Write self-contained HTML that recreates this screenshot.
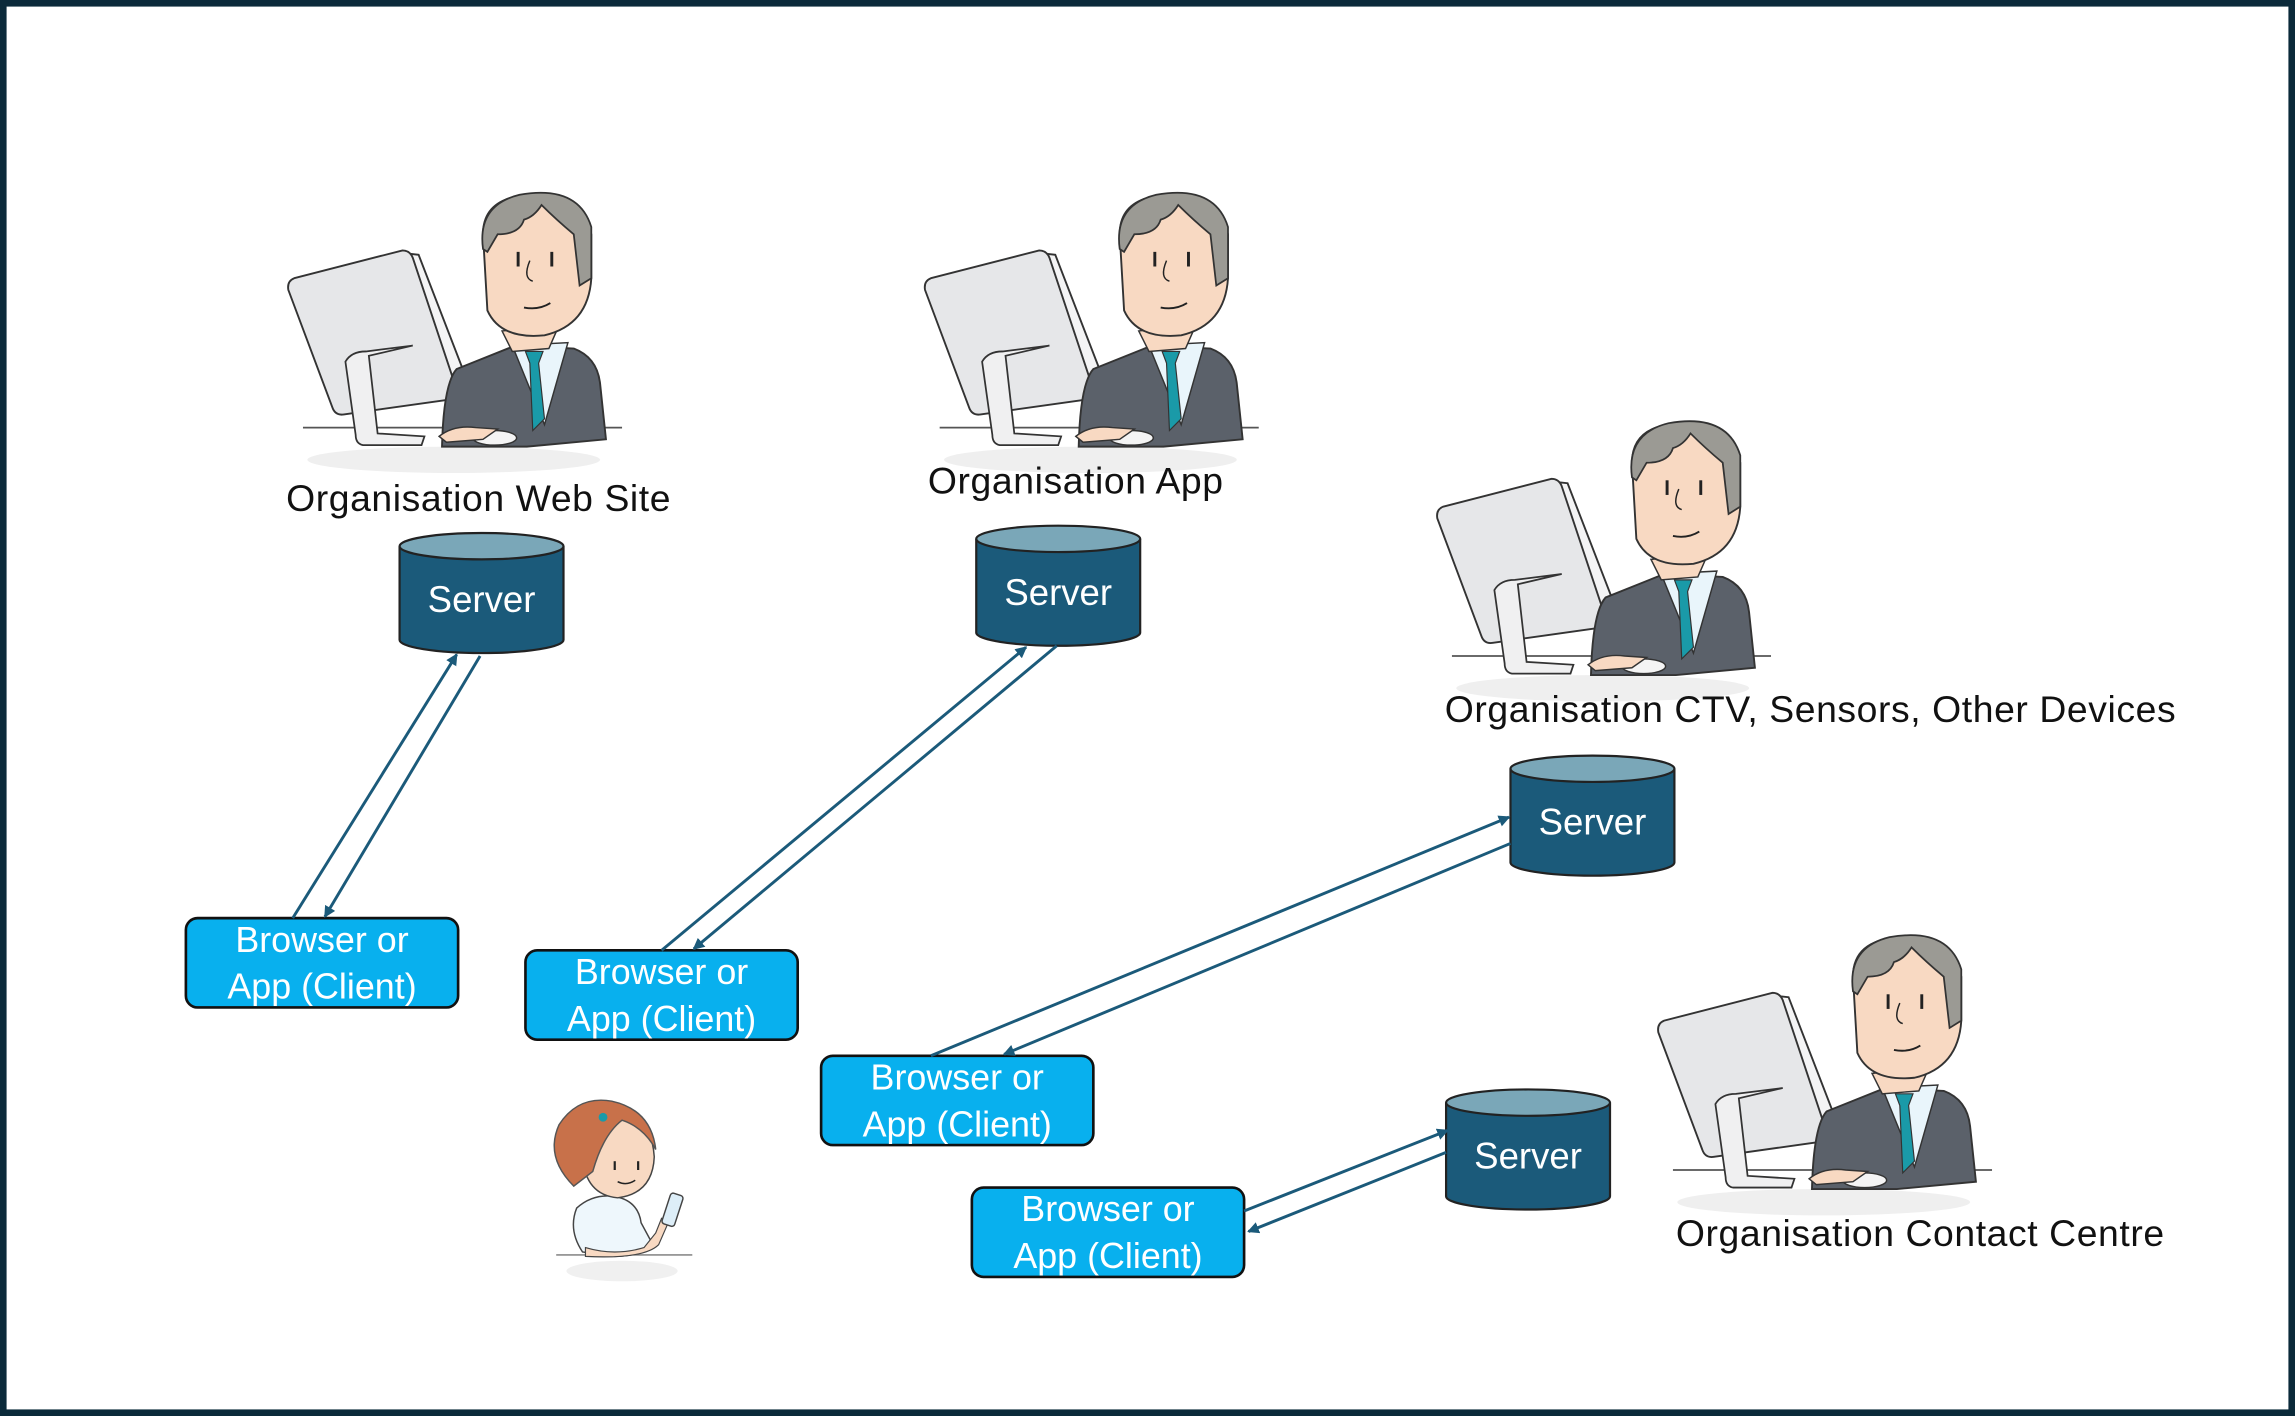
<!DOCTYPE html>
<html><head><meta charset="utf-8"><style>
html,body{margin:0;padding:0;background:#fff}
svg{display:block}
text{font-family:"Liberation Sans",sans-serif}
</style></head><body>
<svg width="2295" height="1416" viewBox="0 0 1568 967" preserveAspectRatio="none" xmlns="http://www.w3.org/2000/svg">
<defs>
<marker id="ah" markerWidth="8" markerHeight="8" refX="7" refY="4" orient="auto" markerUnits="userSpaceOnUse">
<path d="M0,0 L8,4 L0,8 Z" fill="#1b5a7a"/></marker>
<g id="man">
<ellipse cx="310" cy="314" rx="100" ry="9" fill="#efefef"/>
<line x1="207" y1="292" x2="425" y2="292" stroke="#555" stroke-width="1.2"/>
<path d="M277,173 L286,174 L320,262 L312,268 Z" fill="#f4f4f5" stroke="#333" stroke-width="1.3"/>
<path d="M201,190 L275,171 Q280,171 282,176 L312,266 Q313,272 306,273 L235,283 Q229,284 227,278 L197,198 Q196,192 201,190 Z" fill="#e6e7e9" stroke="#333" stroke-width="1.3"/>
<path d="M236,247 Q240,240 250,240 L282,236 L252,243 L258,296 L290,298 L288,304 L248,304 Q243,303 243,297 Z" fill="#f0f0f1" stroke="#333" stroke-width="1.2"/>
<path d="M302,305 Q303,262 312,252 L352,236 L392,238 Q408,244 410,262 L414,300 L360,305 Z" fill="#5b616a" stroke="#333" stroke-width="1.3"/>
<path d="M350,236 L388,234 L372,290 Z" fill="#e9f5fb" stroke="#333" stroke-width="1"/>
<path d="M359,240 L371,240 L368,248 L372,286 L364,294 L362,248 Z" fill="#1a9aa8" stroke="#333" stroke-width="0.8"/>
<path d="M343,226 L350,240 L375,238 L382,222 Z" fill="#f8d9c2" stroke="#333" stroke-width="1"/>
<path d="M330,160 Q330,135 362,133 Q398,132 404,160 L404,190 Q402,222 372,229 Q342,232 333,212 Z" fill="#f8d9c2" stroke="#333" stroke-width="1.3"/>
<path d="M330,170 Q326,140 355,133 Q395,126 404,155 L404,190 L396,195 L392,160 Q380,150 370,140 Q365,148 358,150 Q355,160 340,160 L333,172 Z" fill="#9b9a94" stroke="#333" stroke-width="1.2"/>
<line x1="354" y1="172" x2="354" y2="182" stroke="#222" stroke-width="2"/>
<line x1="377" y1="172" x2="377" y2="182" stroke="#222" stroke-width="2"/>
<path d="M362,178 Q357,190 364,192" fill="none" stroke="#222" stroke-width="1"/>
<path d="M358,210 Q368,212 376,207" fill="none" stroke="#222" stroke-width="1.3"/>
<ellipse cx="338" cy="299" rx="15" ry="5" fill="#f4f4f4" stroke="#333" stroke-width="1"/>
<path d="M300,298 Q310,290 325,292 L340,293 L330,300 L305,302 Z" fill="#f8d9c2" stroke="#333" stroke-width="1"/>
</g>
<g id="srv">
<path d="M0,9 L0,73 A56,9 0 0 0 112,73 L112,9" fill="#1b5a7a" stroke="#222" stroke-width="1.5"/>
<ellipse cx="56" cy="9" rx="56" ry="9" fill="#7aa7b8" stroke="#222" stroke-width="1.5"/>
<text x="56" y="54" text-anchor="middle" font-size="25" fill="#fff">Server</text>
</g>
<g id="cli">
<rect x="0" y="0" width="186" height="61" rx="8" fill="#08b0ee" stroke="#111" stroke-width="1.8"/>
<text x="93" y="23" text-anchor="middle" font-size="24.5" fill="#fff">Browser or</text>
<text x="93" y="55" text-anchor="middle" font-size="24.5" fill="#fff">App (Client)</text>
</g>
</defs>
<rect x="2" y="2" width="1564" height="963" fill="#fff" stroke="#0b2a3a" stroke-width="5"/>

<use href="#man"/>
<use href="#man" transform="translate(435,0)"/>
<use href="#man" transform="translate(785,156)"/>
<use href="#man" transform="translate(936,507)"/>

<g font-size="25.5" fill="#111" text-anchor="middle" letter-spacing="0.4">
<text x="327" y="349">Organisation Web Site</text>
<text x="735" y="337">Organisation App</text>
<text x="1237" y="493">Organisation CTV, Sensors, Other Devices</text>
<text x="1312" y="851">Organisation Contact Centre</text>
</g>

<use href="#srv" transform="translate(273,364)"/>
<use href="#srv" transform="translate(667,359)"/>
<use href="#srv" transform="translate(1032,516)"/>
<use href="#srv" transform="translate(988,744)"/>

<use href="#cli" transform="translate(127,627)"/>
<use href="#cli" transform="translate(359,649)"/>
<use href="#cli" transform="translate(561,721)"/>
<use href="#cli" transform="translate(664,811)"/>

<g stroke="#1b5a7a" stroke-width="2" fill="none">
<line x1="200" y1="627" x2="312" y2="447" marker-end="url(#ah)"/>
<line x1="328" y1="448" x2="222" y2="626" marker-end="url(#ah)"/>
<line x1="452" y1="649" x2="701" y2="442" marker-end="url(#ah)"/>
<line x1="722" y1="441" x2="474" y2="648" marker-end="url(#ah)"/>
<line x1="636" y1="721" x2="1031" y2="558" marker-end="url(#ah)"/>
<line x1="1032" y1="576" x2="686" y2="720" marker-end="url(#ah)"/>
<line x1="850" y1="827" x2="989" y2="772" marker-end="url(#ah)"/>
<line x1="988" y1="787" x2="853" y2="841" marker-end="url(#ah)"/>
</g>

<g>
<ellipse cx="425" cy="868" rx="38" ry="7" fill="#f0f0f0"/>
<line x1="380" y1="857" x2="473" y2="857" stroke="#777" stroke-width="1"/>
<path d="M398,855 Q388,840 394,825 Q405,815 420,817 Q436,820 438,835 L445,848 Q440,858 420,858 Z" fill="#eef7fc" stroke="#444" stroke-width="1"/>
<path d="M400,852 Q420,858 440,852 L448,842 L452,832 L457,834 L450,850 Q440,860 400,858 Z" fill="#f8d9c2" stroke="#444" stroke-width="0.8"/>
<rect x="455" y="815" width="9" height="22" rx="2" transform="rotate(18 459 826)" fill="#ddeef8" stroke="#444" stroke-width="1"/>
<path d="M398,790 Q398,760 420,758 Q445,760 447,790 Q446,815 422,818 Q400,816 398,790 Z" fill="#f8d9c2" stroke="#444" stroke-width="1"/>
<path d="M392,810 Q372,790 382,768 Q395,748 418,752 Q445,758 448,785 Q440,770 425,765 Q412,775 405,800 Z" fill="#c8714a" stroke="#555" stroke-width="1"/>
<circle cx="412" cy="763" r="3" fill="#1a9aa8"/>
<line x1="420" y1="793" x2="420" y2="799" stroke="#222" stroke-width="1.5"/>
<line x1="436" y1="793" x2="436" y2="799" stroke="#222" stroke-width="1.5"/>
<path d="M422,807 Q428,810 434,806" fill="none" stroke="#222" stroke-width="1"/>
</g>
</svg>
</body></html>
